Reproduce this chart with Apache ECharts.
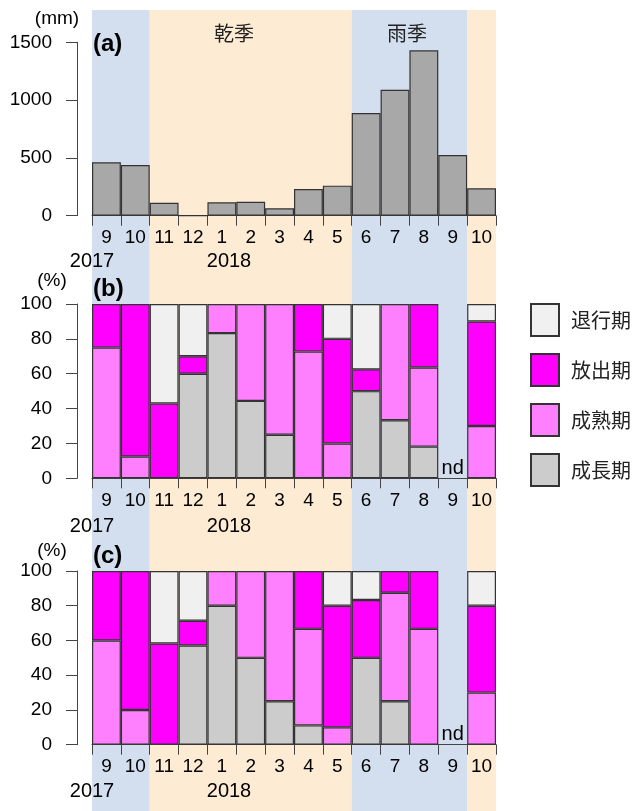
<!DOCTYPE html>
<html><head><meta charset="utf-8">
<script src="https://cdn.jsdelivr.net/npm/echarts@6/dist/echarts.min.js"></script>
<style>html,body{margin:0;padding:0;background:#fff}#c{width:633px;height:811px}</style>
</head><body><div id="c"></div>
<script>
// ---- data ----
const categories = ['2017-09','2017-10','2017-11','2017-12','2018-01','2018-02','2018-03','2018-04','2018-05','2018-06','2018-07','2018-08','2018-09','2018-10'];
const monthLabels = ['9','10','11','12','1','2','3','4','5','6','7','8','9','10'];
const rainfall = [462,439,112,0,116,121,64,231,260,888,1090,1431,525,237];
const rainTicks = [0,500,1000,1500];
const pctTicks = [0,20,40,60,80,100];
const stageNames = ['成長期','成熟期','放出期','退行期'];
const legendOrder = ['退行期','放出期','成熟期','成長期'];
// panel (b)
const b_growth  = [0,0,0,60,83.3,44.4,25,0,0,50,33.3,18.2,null,0];
const b_mature  = [75,12.5,0,0,16.7,55.6,75,72.7,20,0,66.7,45.4,null,30];
const b_release = [25,87.5,42.9,10,0,0,0,27.3,60,12.5,0,36.4,null,60];
const b_regress = [0,0,57.1,30,0,0,0,0,20,37.5,0,0,null,10];
// panel (c)
const c_growth  = [0,0,0,57.1,80,50,25,11.1,0,50,25,0,null,0];
const c_mature  = [60,20,0,0,20,50,75,55.6,10,0,62.5,66.7,null,30];
const c_release = [40,80,58.3,14.3,0,0,0,33.3,70,33.3,12.5,33.3,null,50];
const c_regress = [0,0,41.7,28.6,0,0,0,0,20,16.7,0,0,null,20];
const ndIndex = 12;
// seasons: [start, end, kind] in month-slot units
const seasonBands = [[0,2,'rain'],[2,9,'dry'],[9,13,'rain'],[13,14,'dry']];
const years = ['2017','2018'];

// ---- styles ----
const stageColors = {'成長期':'#cccccc','成熟期':'#ff80ff','放出期':'#ff00ff','退行期':'#f0f0f0'};
const bandColors = {rain:'#d3deef', dry:'#fdebd3'};
const FONT = 'Liberation Sans';
const JP = 'Noto Sans CJK JP';
const axisColor = '#444';
const borderColor = '#333';

const gridLeft = 92, gridRight = 137;
const grids = [
  {left:gridLeft, right:gridRight, top:42.3, height:173.4},
  {left:gridLeft, right:gridRight, top:304, height:174.3},
  {left:gridLeft, right:gridRight, top:571, height:173.7},
  {left:gridLeft, right:gridRight, top:10, bottom:0}
];

function xCat(gi){
  return {gridIndex:gi, type:'category', data:categories, offset:7,
    axisLine:{show:true, lineStyle:{color:axisColor, width:1}},
    axisTick:{show:true, length:10, interval:0, alignWithLabel:false, lineStyle:{color:axisColor}},
    axisLabel:{interval:0, margin:6, fontSize:19, color:'#000', fontFamily:FONT,
      formatter:(v,i)=>monthLabels[i]},
    splitLine:{show:false}};
}
function yVal(gi, ticks){
  return {gridIndex:gi, type:'value', min:ticks[0], max:ticks[ticks.length-1],
    interval:ticks[1]-ticks[0], offset:15,
    axisLine:{show:true, lineStyle:{color:axisColor, width:1}},
    axisTick:{show:true, length:11, lineStyle:{color:axisColor}},
    axisLabel:{margin:25, fontSize:19, color:'#000', fontFamily:FONT, formatter:(v)=>String(v)},
    splitLine:{show:false}};
}

const series = [];
// season background
series.push({
  type:'custom', xAxisIndex:3, yAxisIndex:3, z:-1, silent:true,
  data: seasonBands.map(b=>[b[0], b[1], b[2]==='rain'?0:1]),
  renderItem:function(params, api){
    const p0 = api.coord([api.value(0), 1]);
    const p1 = api.coord([api.value(1), 0]);
    return {type:'rect', shape:{x:p0[0], y:p0[1], width:p1[0]-p0[0], height:p1[1]-p0[1]},
      style:{fill: api.value(2)===0 ? bandColors.rain : bandColors.dry}};
  }
});
// rainfall
series.push({type:'bar', xAxisIndex:0, yAxisIndex:0, data:rainfall, barWidth:'100%',
  itemStyle:{color:'#a8a8a8', borderColor:borderColor, borderWidth:1.2}});

function stageSeries(gi, arrs){
  stageNames.forEach((n, k)=>{
    series.push({type:'bar', name:n, xAxisIndex:gi, yAxisIndex:gi, stack:'s'+gi,
      barWidth:'100%', barGap:'-100%',
      data: arrs[k].map(v => (v===null || v===0) ? '-' : v),
      itemStyle:{color:stageColors[n], borderColor:borderColor, borderWidth:1.2}});
  });
  // "nd" marker for the month without data
  series.push({type:'bar', xAxisIndex:gi, yAxisIndex:gi, stack:'nd'+gi, barWidth:'100%', barGap:'-100%', silent:true,
    data: categories.map((c,i)=> i===ndIndex ? 0 : '-'),
    itemStyle:{color:'rgba(0,0,0,0)', borderWidth:0},
    label:{show:true, position:'top', distance:0, formatter:'nd', fontSize:20, color:'#000', fontFamily:FONT}});
}
stageSeries(1, [b_growth, b_mature, b_release, b_regress]);
stageSeries(2, [c_growth, c_mature, c_release, c_regress]);

function txt(x, y, s, opts){
  return Object.assign({type:'text', x:x, y:y, z:10, style:Object.assign({text:s, fill:'#000',
    font:'19px "'+FONT+'"', textAlign:'center', textVerticalAlign:'middle'}, opts||{})});
}
const graphics = [
  txt(57, 19, '(mm)'),
  txt(52, 281, '(%)'),
  txt(52, 551, '(%)'),
  txt(93, 44, '(a)', {font:'bold 24px "'+FONT+'"', textAlign:'left'}),
  txt(93, 289, '(b)', {font:'bold 24px "'+FONT+'"', textAlign:'left'}),
  txt(93, 556, '(c)', {font:'bold 24px "'+FONT+'"', textAlign:'left'}),
  txt(92, 261, years[0], {font:'20px "'+FONT+'"'}),
  txt(229, 261, years[1], {font:'20px "'+FONT+'"'}),
  txt(92, 526, years[0], {font:'20px "'+FONT+'"'}),
  txt(229, 526, years[1], {font:'20px "'+FONT+'"'}),
  txt(92, 791, years[0], {font:'20px "'+FONT+'"'}),
  txt(229, 791, years[1], {font:'20px "'+FONT+'"'}),
  txt(234, 33, '乾季', {font:'20px "'+JP+'"', fill:'#222'}),
  txt(407, 33, '雨季', {font:'20px "'+JP+'"', fill:'#222'})
];

const chart = echarts.init(document.getElementById('c'), null, {renderer:'canvas'});
chart.setOption({
  animation:false,
  backgroundColor:'#fff',
  textStyle:{fontFamily:FONT},
  grid:grids,
  xAxis:[xCat(0), xCat(1), xCat(2),
    {gridIndex:3, type:'value', min:0, max:14, show:false}],
  yAxis:[yVal(0, rainTicks), yVal(1, pctTicks), yVal(2, pctTicks),
    {gridIndex:3, type:'value', min:0, max:1, show:false}],
  legend:{data:legendOrder, orient:'vertical', left:530, top:303, padding:0, itemWidth:28, itemHeight:32,
    itemGap:16, icon:'rect',
    textStyle:{fontSize:20, fontFamily:JP, color:'#222', padding:[0,0,0,7]}},
  series:series,
  graphic:graphics
});
</script></body></html>
